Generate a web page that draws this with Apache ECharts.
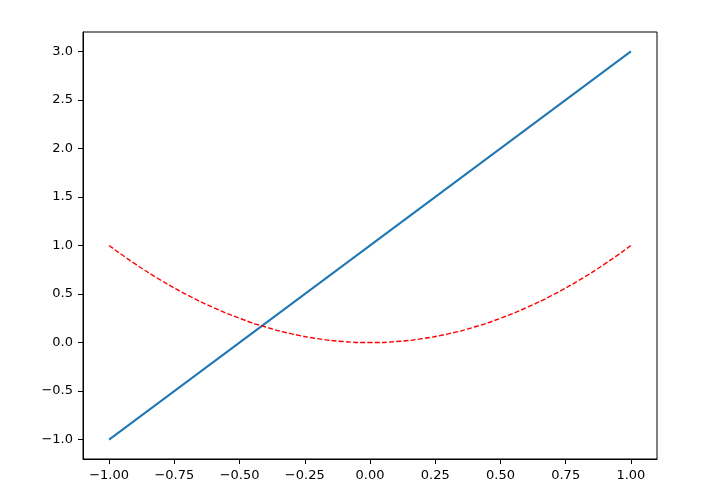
<!DOCTYPE html>
<html>
<head>
<meta charset="utf-8">
<script src="https://cdn.jsdelivr.net/npm/echarts@6/dist/echarts.min.js"></script>
<style>
html,body{margin:0;padding:0;background:#fff;}
#chart{width:726px;height:496px;}
</style>
</head>
<body>
<div id="chart"></div>
<script>
// Data
const lineX = [-1.0, 1.0];
const lineY = [-1.0, 3.0];
const curveX = [-1.0, -0.9, -0.8, -0.7, -0.6, -0.5, -0.4, -0.3, -0.2, -0.1, 0.0, 0.1, 0.2, 0.3, 0.4, 0.5, 0.6, 0.7, 0.8, 0.9, 1.0];
const curveY = [1.0, 0.81, 0.64, 0.49, 0.36, 0.25, 0.16, 0.09, 0.04, 0.01, 0.0, 0.01, 0.04, 0.09, 0.16, 0.25, 0.36, 0.49, 0.64, 0.81, 1.0];
const xTicks = [-1.0, -0.75, -0.5, -0.25, 0.0, 0.25, 0.5, 0.75, 1.0];
const yTicks = [-1.0, -0.5, 0.0, 0.5, 1.0, 1.5, 2.0, 2.5, 3.0];

const fmt = (d) => (v) => {
  const s = Math.abs(v).toFixed(d);
  return (v < -1e-9 ? '\u2212' : '') + s;
};

const chart = echarts.init(document.getElementById('chart'), null, {renderer: 'canvas'});
const labelStyle = {color: '#000', fontFamily: 'DejaVu Sans', fontSize: 13};
chart.setOption({
  animation: false,
  backgroundColor: '#fff',
  grid: {left: 83, right: 69, top: 32, bottom: 37, show: true, borderColor: '#000', borderWidth: 1, backgroundColor: 'transparent'},
  xAxis: {
    type: 'value', min: -1.1, max: 1.1,
    axisLine: {show: true, onZero: false, lineStyle: {color: '#000', width: 1}},
    splitLine: {show: false},
    axisTick: {show: true, inside: false, length: 5, customValues: xTicks, lineStyle: {color: '#000', width: 1}},
    axisLabel: Object.assign({margin: 10, customValues: xTicks, formatter: fmt(2), showMinLabel: true, showMaxLabel: true}, labelStyle)
  },
  yAxis: {
    type: 'value', min: -1.2, max: 3.2,
    axisLine: {show: true, onZero: false, lineStyle: {color: '#000', width: 1}},
    splitLine: {show: false},
    axisTick: {show: true, inside: false, length: 5, customValues: yTicks, lineStyle: {color: '#000', width: 1}},
    axisLabel: Object.assign({margin: 10, customValues: yTicks, formatter: fmt(1), showMinLabel: true, showMaxLabel: true}, labelStyle)
  },
  series: [
    {
      type: 'line', showSymbol: false, symbol: 'none',
      data: lineX.map((x, i) => [x, lineY[i]]),
      lineStyle: {color: '#1f77b4', width: 2}
    },
    {
      type: 'line', showSymbol: false, symbol: 'none', smooth: true,
      data: curveX.map((x, i) => [x, curveY[i]]),
      lineStyle: {color: '#ff0000', width: 1.4, type: [5, 2.2]}
    }
  ]
});
</script>
</body>
</html>
